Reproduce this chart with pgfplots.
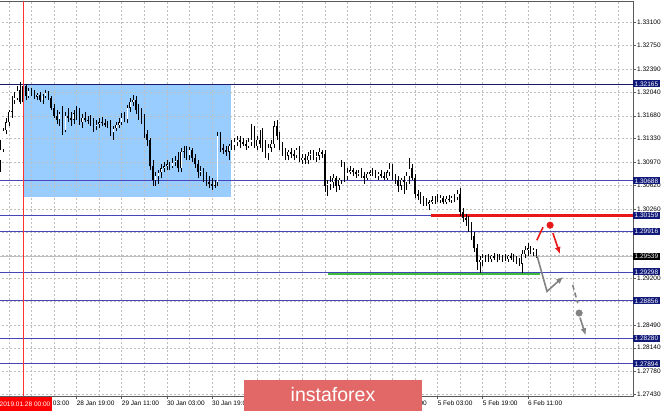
\documentclass[border=0pt]{standalone}
\usepackage{fontspec}
\setmainfont{Liberation Sans}
\usepackage{pgfplots}
\usepackage{pgfplotstable}
\pgfplotsset{compat=1.18}
\usetikzlibrary{arrows.meta}

\definecolor{levelblue}{RGB}{70,70,185}
\definecolor{levelnavy}{RGB}{25,25,110}
\definecolor{boxnavy}{RGB}{16,24,120}
\definecolor{rectblue}{RGB}{153,204,255}
\definecolor{gridgray}{RGB}{190,190,190}
\definecolor{vred}{RGB}{255,50,50}
\definecolor{lvlred}{RGB}{232,24,24}
\definecolor{lvlgreen}{RGB}{60,190,60}
\definecolor{arrowgray}{RGB}{130,130,130}
\definecolor{bannerred}{RGB}{226,104,104}

% hourly candles, i = hours from 2019.01.28 00:00 (trading hours only)
\pgfplotstableread{
i o h l c
-8 1.3100 1.3131 1.3082 1.3116
-7 1.3116 1.3149 1.3113 1.3146
-6 1.3146 1.3165 1.3140 1.3158
-5 1.3158 1.3177 1.3152 1.3174
-4 1.3174 1.3198 1.3165 1.3192
-3 1.3192 1.3204 1.3186 1.3195
-2 1.3195 1.3213 1.3192 1.3207
-1 1.3207 1.3219 1.3186 1.3189
0 1.3189 1.3218 1.3186 1.3213
1 1.3213 1.3216 1.3192 1.3198
2 1.3198 1.3210 1.3195 1.3207
3 1.3207 1.3210 1.3198 1.3201
4 1.3201 1.3207 1.3194 1.3197
5 1.3197 1.3203 1.3192 1.3200
6 1.3200 1.3204 1.3189 1.3192
7 1.3192 1.3201 1.3186 1.3198
8 1.3198 1.3207 1.3195 1.3203
9 1.3203 1.3206 1.3192 1.3195
10 1.3195 1.3198 1.3177 1.3180
11 1.3180 1.3186 1.3165 1.3168
12 1.3168 1.3177 1.3155 1.3162
13 1.3162 1.3174 1.3152 1.3171
14 1.3171 1.3183 1.3139 1.3146
15 1.3146 1.3174 1.3143 1.3168
16 1.3168 1.3180 1.3158 1.3165
17 1.3165 1.3174 1.3152 1.3162
18 1.3162 1.3177 1.3155 1.3172
19 1.3172 1.3183 1.3162 1.3166
20 1.3166 1.3180 1.3154 1.3158
21 1.3158 1.3171 1.3149 1.3165
22 1.3165 1.3174 1.3158 1.3162
23 1.3162 1.3168 1.3155 1.3160
24 1.3160 1.3169 1.3152 1.3157
25 1.3157 1.3165 1.3143 1.3152
26 1.3152 1.3162 1.3146 1.3155
27 1.3155 1.3165 1.3149 1.3158
28 1.3158 1.3166 1.3152 1.3157
29 1.3157 1.3163 1.3151 1.3154
30 1.3154 1.3160 1.3149 1.3155
31 1.3155 1.3162 1.3137 1.3142
32 1.3142 1.3152 1.3131 1.3149
33 1.3149 1.3158 1.3145 1.3154
34 1.3154 1.3165 1.3149 1.3158
35 1.3158 1.3172 1.3154 1.3165
36 1.3165 1.3174 1.3158 1.3162
37 1.3162 1.3184 1.3157 1.3180
38 1.3180 1.3195 1.3174 1.3189
39 1.3189 1.3200 1.3183 1.3192
40 1.3192 1.3198 1.3171 1.3177
41 1.3177 1.3186 1.3162 1.3168
42 1.3168 1.3180 1.3155 1.3165
43 1.3165 1.3171 1.3134 1.3140
44 1.3140 1.3146 1.3122 1.3131
45 1.3131 1.3134 1.3085 1.3091
46 1.3091 1.3100 1.3061 1.3070
47 1.3070 1.3082 1.3061 1.3076
48 1.3076 1.3085 1.3064 1.3082
49 1.3082 1.3094 1.3073 1.3088
50 1.3088 1.3097 1.3082 1.3091
51 1.3091 1.3100 1.3085 1.3094
52 1.3094 1.3097 1.3085 1.3091
53 1.3091 1.3104 1.3088 1.3097
54 1.3097 1.3107 1.3091 1.3100
55 1.3100 1.3113 1.3082 1.3088
56 1.3088 1.3119 1.3082 1.3113
57 1.3113 1.3122 1.3104 1.3116
58 1.3116 1.3122 1.3100 1.3107
59 1.3107 1.3120 1.3100 1.3116
60 1.3116 1.3119 1.3097 1.3104
61 1.3104 1.3110 1.3088 1.3094
62 1.3094 1.3100 1.3073 1.3082
63 1.3082 1.3091 1.3076 1.3085
64 1.3085 1.3088 1.3067 1.3073
65 1.3073 1.3082 1.3061 1.3067
66 1.3067 1.3076 1.3058 1.3064
67 1.3064 1.3073 1.3055 1.3061
68 1.3061 1.3070 1.3058 1.3067
69 1.3067 1.3143 1.3061 1.3137
70 1.3137 1.3143 1.3113 1.3119
71 1.3119 1.3125 1.3110 1.3116
72 1.3116 1.3122 1.3107 1.3113
73 1.3113 1.3125 1.3100 1.3122
74 1.3122 1.3131 1.3116 1.3123
75 1.3123 1.3134 1.3116 1.3128
76 1.3128 1.3137 1.3122 1.3131
77 1.3131 1.3137 1.3119 1.3128
78 1.3128 1.3134 1.3122 1.3125
79 1.3125 1.3131 1.3116 1.3122
80 1.3122 1.3134 1.3119 1.3128
81 1.3128 1.3155 1.3122 1.3131
82 1.3131 1.3152 1.3119 1.3122
83 1.3122 1.3137 1.3116 1.3131
84 1.3131 1.3146 1.3119 1.3125
85 1.3125 1.3149 1.3113 1.3116
86 1.3116 1.3131 1.3104 1.3110
87 1.3110 1.3125 1.3100 1.3119
88 1.3119 1.3131 1.3113 1.3125
89 1.3125 1.3160 1.3119 1.3152
90 1.3152 1.3162 1.3131 1.3137
91 1.3137 1.3143 1.3116 1.3122
92 1.3122 1.3128 1.3107 1.3113
93 1.3113 1.3119 1.3100 1.3107
94 1.3107 1.3116 1.3100 1.3113
95 1.3113 1.3119 1.3104 1.3110
96 1.3110 1.3116 1.3100 1.3107
97 1.3107 1.3119 1.3104 1.3116
98 1.3116 1.3122 1.3097 1.3100
99 1.3100 1.3110 1.3094 1.3104
100 1.3104 1.3110 1.3094 1.3100
101 1.3100 1.3113 1.3094 1.3107
102 1.3107 1.3116 1.3100 1.3110
103 1.3110 1.3116 1.3100 1.3104
104 1.3104 1.3113 1.3097 1.3107
105 1.3107 1.3119 1.3100 1.3113
106 1.3113 1.3116 1.3104 1.3110
107 1.3110 1.3116 1.3052 1.3061
108 1.3061 1.3070 1.3046 1.3064
109 1.3064 1.3076 1.3055 1.3067
110 1.3067 1.3079 1.3058 1.3073
111 1.3073 1.3076 1.3052 1.3061
112 1.3061 1.3073 1.3055 1.3070
113 1.3070 1.3100 1.3064 1.3091
114 1.3091 1.3097 1.3067 1.3076
115 1.3076 1.3088 1.3070 1.3082
116 1.3082 1.3091 1.3079 1.3085
117 1.3085 1.3088 1.3076 1.3082
118 1.3082 1.3085 1.3073 1.3079
119 1.3079 1.3085 1.3076 1.3082
120 1.3082 1.3088 1.3073 1.3076
121 1.3076 1.3082 1.3064 1.3073
122 1.3073 1.3082 1.3070 1.3079
123 1.3079 1.3085 1.3076 1.3082
124 1.3082 1.3088 1.3076 1.3079
125 1.3079 1.3085 1.3073 1.3076
126 1.3076 1.3082 1.3070 1.3079
127 1.3079 1.3085 1.3073 1.3076
128 1.3076 1.3082 1.3070 1.3073
129 1.3073 1.3085 1.3070 1.3082
130 1.3082 1.3096 1.3076 1.3088
131 1.3088 1.3094 1.3070 1.3073
132 1.3073 1.3079 1.3064 1.3070
133 1.3070 1.3076 1.3052 1.3061
134 1.3061 1.3073 1.3055 1.3070
135 1.3070 1.3076 1.3049 1.3067
136 1.3067 1.3082 1.3055 1.3076
137 1.3076 1.3104 1.3064 1.3088
138 1.3088 1.3094 1.3070 1.3073
139 1.3073 1.3079 1.3043 1.3049
140 1.3049 1.3055 1.3039 1.3046
141 1.3046 1.3052 1.3033 1.3039
142 1.3039 1.3046 1.3030 1.3036
143 1.3036 1.3043 1.3030 1.3033
144 1.3033 1.3039 1.3024 1.3036
145 1.3036 1.3046 1.3033 1.3039
146 1.3039 1.3046 1.3033 1.3043
147 1.3043 1.3049 1.3036 1.3039
148 1.3039 1.3047 1.3035 1.3043
149 1.3043 1.3046 1.3033 1.3036
150 1.3036 1.3046 1.3033 1.3041
151 1.3041 1.3047 1.3036 1.3039
152 1.3039 1.3046 1.3035 1.3043
153 1.3043 1.3049 1.3036 1.3044
154 1.3044 1.3055 1.3039 1.3049
155 1.3049 1.3058 1.3015 1.3021
156 1.3021 1.3027 1.3006 1.3012
157 1.3012 1.3018 1.3000 1.3009
158 1.3009 1.3015 1.2991 1.2997
159 1.2997 1.3006 1.2978 1.2985
160 1.2985 1.2991 1.2960 1.2966
161 1.2966 1.2972 1.2933 1.2945
162 1.2945 1.2954 1.2928 1.2948
163 1.2948 1.2957 1.2939 1.2951
164 1.2951 1.2956 1.2945 1.2952
165 1.2952 1.2957 1.2945 1.2949
166 1.2949 1.2956 1.2945 1.2954
167 1.2954 1.2959 1.2948 1.2951
168 1.2951 1.2957 1.2945 1.2954
169 1.2954 1.2957 1.2948 1.2951
170 1.2951 1.2956 1.2945 1.2952
171 1.2952 1.2957 1.2946 1.2949
172 1.2949 1.2956 1.2945 1.2954
173 1.2954 1.2959 1.2948 1.2951
174 1.2951 1.2957 1.2945 1.2948
175 1.2948 1.2954 1.2942 1.2945
176 1.2945 1.2951 1.2939 1.2942
177 1.2942 1.2963 1.2928 1.2957
178 1.2957 1.2969 1.2951 1.2963
179 1.2963 1.2974 1.2954 1.2966
180 1.2966 1.2969 1.2957 1.2960
181 1.2960 1.2966 1.2954 1.2963
182 1.2963 1.2965 1.2951 1.2954
}\candles

\begin{document}
\begin{tikzpicture}
\begin{axis}[
  at={(-2pt,0pt)}, anchor=south west,
  scale only axis, width=635pt, height=395pt,
  xmin=-8.87, xmax=216.3, ymin=1.27404, ymax=1.33431,
  set layers, clip mode=individual,
  axis line style={gray!70!black, line width=0.6pt},
  xtick pos=bottom, ytick pos=right, yticklabel pos=right,
  tick align=outside, major tick length=3pt, minor tick length=0pt,
  tick style={gray!70!black, line width=0.5pt},
  xtick={3,19,...,179},
  % labels hidden under the watermark in the original are left blank
  xticklabels={28 Jan 03:00, 28 Jan 19:00, 29 Jan 11:00, 30 Jan 03:00, 30 Jan 19:00, {}, {}, {}, 4 Feb 11:00, 5 Feb 03:00, 5 Feb 19:00, 6 Feb 11:00},
  minor xtick={-5,11,...,203,195,211},
  ytick={1.33100,1.32750,1.32390,1.32040,1.31680,1.31330,1.30970,1.30620,1.30260,1.29900,1.29550,1.29200,1.28850,1.28490,1.28140,1.27780,1.27430},
  % labels fully covered by the level boxes are left blank
  yticklabels={1.33100,1.32750,1.32390,1.32040,1.31680,1.31330,1.30970,1.30620,1.30260,{},{},1.29200,{},1.28490,1.28140,1.27780,1.27430},
  xmajorgrids, xminorgrids, ymajorgrids,
  grid style={gridgray, dash pattern=on 2pt off 2pt, line width=0.5pt},
  minor grid style={gridgray, dash pattern=on 2pt off 2pt, line width=0.5pt},
  ticklabel style={font=\fontsize{6.5}{7}\selectfont, inner sep=0pt},
  xticklabel style={anchor=north west, yshift=-2pt},
  yticklabel style={anchor=west, xshift=1pt},
]
% rectangle zone
\addplot[on layer=axis background, fill=rectblue, draw=none]
  coordinates {(0,1.30441) (73.8,1.30441) (73.8,1.32165) (0,1.32165)} --cycle;

% levels
\addplot[levelnavy, line width=0.8pt] coordinates {(-10,1.32165) (220,1.32165)};
\addplot[levelblue, line width=0.7pt] coordinates {(-10,1.30688) (220,1.30688)};
\addplot[levelblue, line width=0.7pt] coordinates {(-10,1.30159) (220,1.30159)};
\addplot[levelblue, line width=0.7pt] coordinates {(-10,1.29916) (220,1.29916)};
\addplot[gridgray, line width=0.7pt] coordinates {(-10,1.29539) (220,1.29539)};
\addplot[levelblue, line width=0.7pt] coordinates {(-10,1.29298) (220,1.29298)};
\addplot[levelblue, line width=0.7pt] coordinates {(-10,1.28856) (220,1.28856)};
\addplot[levelblue, line width=0.7pt] coordinates {(-10,1.28280) (220,1.28280)};
\addplot[levelblue, line width=1.0pt] coordinates {(-10,1.27894) (220,1.27894)};

\addplot[lvlred, line width=2.5pt] coordinates {(144.7,1.30159) (220,1.30159)};
\addplot[lvlgreen, line width=2pt] coordinates {(108.2,1.2927) (183.3,1.2927)};

% candles: wicks, bodies, hollow bull bodies
\pgfplotsset{candle/.style={draw=none, mark=none, error bars/.cd, y dir=plus, y explicit, error mark=none}}
\addplot[candle, error bar style={draw=black, solid, line width=0.45pt}]
  table[x=i, y=l, y error expr=\thisrow{h}-\thisrow{l}] {\candles};
\addplot[candle, error bar style={draw=black, solid, line width=1.5pt}]
  table[x=i, y expr={min(\thisrow{o},\thisrow{c})}, y error expr={abs(\thisrow{c}-\thisrow{o})}] {\candles};
\addplot[candle, error bar style={draw=white, solid, line width=0.6pt}]
  table[x=i, y expr={\thisrow{o}+0.00006}, y error expr={max(\thisrow{c}-\thisrow{o}-0.00012,0)}] {\candles};

% start-of-period marker
\addplot[vred, line width=0.9pt] coordinates {(0,1.27404) (0,1.33431)};

% forecast arrows
\addplot[lvlred, line width=1.6pt] coordinates {(182.2,1.2978) (184.4,1.2998)};
\addplot[lvlred, only marks, mark=*, mark size=3.3pt] coordinates {(186.9,1.3001)};
\addplot[lvlred, line width=1.6pt, -{Latex[length=7pt,width=6pt]}] coordinates {(187.9,1.2989) (190.4,1.2957)};

\addplot[arrowgray, line width=1.6pt, -{Latex[length=7pt,width=6pt]}] coordinates {(182.3,1.2954) (185.8,1.2900) (191.5,1.2922)};
\addplot[arrowgray, line width=1.6pt, dash pattern=on 5pt off 3pt] coordinates {(194.9,1.2910) (196.7,1.2882)};
\addplot[arrowgray, only marks, mark=*, mark size=3.3pt] coordinates {(197.2,1.2867)};
\addplot[arrowgray, line width=1.6pt, -{Latex[length=7pt,width=6pt]}] coordinates {(197.5,1.2860) (199.5,1.2833)};

% price boxes on the scale
\tikzset{pbox/.style={fill=boxnavy, text=white, font=\fontsize{6.5}{7}\selectfont, inner xsep=1.5pt, inner ysep=1.2pt, anchor=west}}
\node[pbox] at (axis cs:216.3,1.32165) {1.32165};
\node[pbox] at (axis cs:216.3,1.30688) {1.30688};
\node[pbox] at (axis cs:216.3,1.30159) {1.30159};
\node[pbox] at (axis cs:216.3,1.29916) {1.29916};
\node[pbox, fill=black] at (axis cs:216.3,1.29539) {1.29539};
\node[pbox] at (axis cs:216.3,1.29298) {1.29298};
\node[pbox] at (axis cs:216.3,1.28856) {1.28856};
\node[pbox] at (axis cs:216.3,1.28280) {1.28280};
\node[pbox] at (axis cs:216.3,1.27894) {1.27894};
\end{axis}

% date flag and watermark
\node[fill=red, text=white, font=\fontsize{6.5}{7}\selectfont, minimum width=54pt, minimum height=14pt, inner sep=0pt] at (25pt,-8pt) {2019.01.28 00:00};
\fill[bannerred] (244pt,-15pt) rectangle (422pt,16pt);
\node[text=white, font=\fontsize{19.5}{20}\selectfont, anchor=base, inner sep=0pt] at (333pt,-6pt) {instaforex};

\pgfresetboundingbox
\path[use as bounding box] (0pt,-15pt) rectangle (665pt,396pt);
\end{tikzpicture}
\end{document}
